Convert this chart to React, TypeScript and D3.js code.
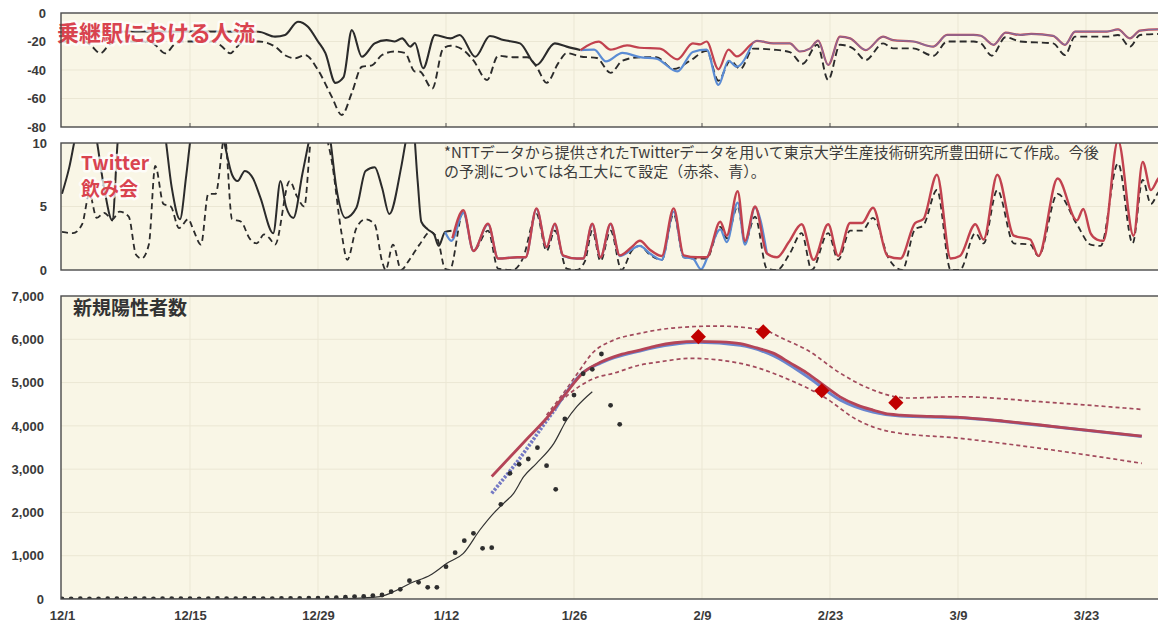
import { useEffect, useRef } from "react";
import * as d3 from "d3";

type Pt = [number, number];

// x positions are day offsets from 12/1
const tickDays = [0, 14, 28, 42, 56, 70, 84, 98, 112];
const tickLabels = ["12/1", "12/15", "12/29", "1/12", "1/26", "2/9", "2/23", "3/9", "3/23"];

const flowTicks = [0, -20, -40, -60, -80];
const twitterTicks = [0, 5, 10];
const caseTicks = [0, 1000, 2000, 3000, 4000, 5000, 6000, 7000];

// 乗継駅における人流
const flowSolid: Pt[] = [
  [0, -14], [3, -13.5], [8, -13], [15, -13], [21.5, -13.2], [23.3, -16.6], [24.4, -15.4],
  [25.8, -6.1], [26.9, -9.6], [28, -20], [28.8, -28], [29.9, -49], [30.8, -45], [31.7, -12],
  [32.8, -30.7], [34.2, -21.3], [35.5, -19], [36.4, -20], [37.2, -17.8], [38.1, -23.6],
  [38.6, -21], [39.5, -38.8], [40.8, -15.4], [42.5, -17.8], [43.5, -15.4], [45.2, -30.7],
  [46.8, -16.1], [48.3, -19], [50.1, -21.3], [51.9, -36.5], [53.9, -21.3], [55.2, -23.6],
  [56.7, -26],
];
const flowDashed: Pt[] = [
  [0, -20], [2.5, -20], [3.2, -23], [4.2, -28.3], [5.2, -22], [6, -20], [9.5, -20], [10.3, -23],
  [11.3, -28.3], [12.3, -22], [13, -20], [16.5, -20], [17.4, -23], [18.4, -28.3], [19.4, -22],
  [20.2, -20], [21.5, -20], [23.3, -23.6], [24.5, -30], [25.5, -31.8], [26.6, -29.5], [28, -40],
  [29.5, -58.7], [30.6, -71.6], [31.7, -56], [32.8, -37.7], [33.9, -36.7], [35, -29.5],
  [36.4, -27], [37.5, -28], [38.6, -41], [39.1, -41], [40.5, -53], [41.7, -24.8], [42.5, -23],
  [43.9, -26], [45, -33.3], [46.5, -47], [47.7, -30], [49.3, -31], [50.9, -31], [51.9, -37.7],
  [53, -49], [54.3, -35], [55.2, -28.2], [56.7, -30.5], [58.5, -31.6], [60, -42], [61.3, -33.5],
  [63.2, -31], [65, -31], [66.9, -39.3], [68.7, -33.5], [70.5, -26.5], [71.8, -47.5],
  [73.1, -33.5], [74.2, -39.3], [75.6, -25], [77.8, -25.7], [79.6, -27.4], [81, -35.6],
  [82.6, -22.3], [83.8, -47], [85.1, -22.3], [86.5, -24.8], [87.9, -33], [89.8, -21.3],
  [90.9, -24.8], [93.1, -24.8], [95.3, -30], [96.8, -20], [99.7, -20], [100.5, -21.3],
  [101.7, -30], [103.2, -17], [104.8, -20], [108.4, -21.3], [109.7, -29.5], [110.8, -16.6],
  [114.3, -16.6], [115.5, -15.4], [116.8, -23.6], [117.9, -15.4], [119.8, -14.7], [121, -14.5],
];
const flowRed: Pt[] = [
  [56.7, -26], [58.7, -20.1], [60, -25.7], [61.8, -22.7], [63.2, -24.4], [65.4, -25],
  [67.3, -32.5], [69, -21.3], [69.8, -22], [70.5, -20], [71.8, -39.5], [72.9, -25.7],
  [73.8, -30.5], [75.5, -21.3], [76, -19.5], [77.8, -21.3], [79.6, -21.3], [80.7, -27],
  [81.8, -25], [82.7, -19.4], [83.8, -36.5], [85.1, -16.6], [86.2, -17.8], [87.9, -26],
  [89.8, -16.6], [90.9, -19], [93.1, -20], [95.3, -23.6], [96.8, -15.4], [99.7, -15.4],
  [100.5, -16], [101.9, -22.3], [103.2, -13.8], [104.8, -15.4], [106, -14.7], [108.4, -16],
  [109.7, -22.3], [110.8, -13], [114.3, -13], [115.5, -11.5], [116.8, -17.8], [117.9, -12.4],
  [119.8, -11.5], [121, -11.5],
];
const flowBlue: Pt[] = [
  [56.7, -26], [58.2, -25.7], [59.5, -34], [61.3, -28], [63.2, -31], [65, -32], [67.3, -41],
  [69, -27.4], [70.5, -25.7], [71.8, -50.5], [72.9, -33.5], [73.8, -37.7], [75.5, -21.5],
];

// Twitter 飲み会
const tweetSolid: Pt[] = [
  [0, 6], [0.8, 8.1], [1.5, 10.6], [2.5, 13], [3.6, 11], [4.6, 6.5], [5.5, 3.9], [6.1, 10.2],
  [7, 14], [10, 14], [11.2, 11], [12, 6.5], [12.9, 4], [13.6, 7.5], [14.2, 11], [16, 14],
  [17.6, 10.5], [18.6, 7.5], [19.2, 7], [20, 7.8], [20.9, 7.2], [21.7, 5.7], [23.1, 2.9],
  [23.9, 7], [24.5, 5], [25.3, 4.1], [26.3, 7.6], [27.1, 10.5], [28, 14], [29.3, 10.5],
  [30, 6.5], [31, 4.1], [32.2, 4.9], [33.2, 7.8], [34.2, 8.1], [35, 6.5], [35.8, 4.4],
  [37.1, 8.1], [37.7, 10.5], [38.3, 12], [38.9, 7], [39.3, 3.8], [40, 3.2], [40.7, 2.8],
  [41.2, 1.9], [41.9, 3], [42.6, 3.1],
];
const tweetDashed: Pt[] = [
  [0, 3], [1.2, 2.9], [2.2, 3.6], [3, 6], [3.8, 4.1], [4.6, 4.5], [5.5, 4], [6.3, 4.6],
  [7.3, 4.2], [8.1, 1.2], [8.7, 0.9], [9.5, 2], [10.2, 8.2], [11.1, 5.2], [11.9, 5],
  [12.8, 3.3], [13.8, 4], [14.4, 3.1], [15.2, 2], [16, 6], [16.8, 6], [17.8, 10.5], [18.6, 4],
  [19.6, 3.8], [20.5, 2.5], [21.3, 2.1], [22.1, 2.8], [22.7, 2.5], [23.3, 2], [24.9, 7],
  [25.7, 5.8], [26.5, 5], [27.3, 10.5], [28.5, 11], [29.4, 9], [30.6, 2.8], [31.2, 0.8],
  [32.2, 3.3], [33.2, 4], [34.2, 3.6], [35, 0.7], [35.4, 0], [36.2, 2], [37.1, 0], [37.9, 0.7],
  [39.1, 2], [40.3, 3], [41.1, 2.4], [41.9, 0.1], [42.4, 0], [43.9, 4.6], [45, 1.5],
  [46.6, 3.1], [47.7, 0.1], [49.3, 0], [50.4, 0.9], [51.9, 4.4], [53, 1.5], [53.9, 3.1],
  [55.2, 0.1], [56.3, 0], [57.2, 0.7], [58, 3.1], [58.9, 0.7], [60, 3.1], [61.2, 0],
  [62.3, 1.5], [63.2, 1.9], [64.3, 1.2], [65.6, 0.8], [66.9, 4.4], [68, 1], [69.5, 0.9],
  [70.5, 0.9], [72, 3.4], [72.7, 2.5], [73.9, 5], [74.7, 2.2], [75.8, 4.2], [77.1, 0.1],
  [78.2, 0], [79.6, 1.3], [80.9, 2.9], [82, 0], [83.8, 2.9], [84.9, 0.8], [86.2, 3.1],
  [87.5, 3.1], [88.7, 4.1], [90.5, 0.8], [91.9, 0], [93.3, 3.2], [94.2, 3.5], [95.7, 6.3],
  [97.2, 0], [98.2, 0], [99.9, 2.9], [100.8, 2.1], [102.3, 6.3], [104.1, 2.1], [105.9, 2],
  [106.8, 1.1], [108.9, 6], [111, 3.6], [112.5, 2], [113.6, 1.9], [115.5, 8.4], [117.1, 2.1],
  [118.2, 7.1], [119.1, 5.2], [119.9, 6.1], [121, 6.8],
];
const tweetRed: Pt[] = [
  [42.7, 2.5], [43.9, 4.7], [45, 1.5], [46.6, 3.65], [47.7, 0.9], [49.8, 1], [50.7, 1],
  [51.9, 4.85], [53, 1.8], [53.9, 3.65], [54.8, 1.15], [56.3, 0.9], [57, 0.9], [58, 3.65],
  [58.9, 1], [60, 3.65], [61, 1.15], [62.3, 1.8], [63.2, 2.3], [64.3, 1.6], [65.6, 1.1],
  [66.9, 4.85], [68, 1.15], [69.5, 1], [70.5, 1], [72, 3.8], [72.7, 2.7], [73.9, 6.2],
  [74.7, 2.3], [75.8, 5], [77.1, 1.3], [78.2, 1], [79.5, 2.2], [80.9, 3.6], [82.2, 0.8],
  [83.8, 3.6], [84.9, 1.1], [86.2, 3.7], [87.5, 3.7], [88.7, 4.9], [90.3, 1.1], [91.7, 0.9],
  [93.3, 3.7], [94.2, 4], [95.7, 7.5], [97.2, 0.9], [98.2, 1.1], [99.9, 3.6], [100.8, 2.4],
  [102.3, 7.5], [104.1, 2.7], [105.9, 2.4], [106.8, 1.1], [108.9, 7.2], [111, 3.9],
  [111.7, 4.8], [112.5, 2.9], [113.2, 2.4], [113.9, 2.3], [115.5, 10.2], [117.2, 2.7],
  [118.2, 8.5], [119.1, 6.3], [119.9, 7.2], [121, 7.8],
];
const tweetBlue: Pt[] = [
  [41.9, 3], [42.6, 2.3], [43.9, 4.5], [45, 1.5], [46.6, 3.6], [47.7, 0.9], [49.8, 1],
  [50.7, 1], [51.9, 4.8], [53, 1.8], [53.9, 3.6], [54.8, 1.1], [56.3, 0.9], [57, 0.9],
  [58, 3.6], [58.9, 1], [60, 3.6], [61, 1.1], [63.2, 1.9], [64.3, 1.3], [65.6, 0.8],
  [66.9, 4.6], [68, 1], [69, 0.9], [69.9, 0.05], [70.6, 1], [72, 3.2], [72.7, 2.2],
  [73.9, 5.3], [74.7, 2], [75.8, 4.9], [77.1, 1.3],
];

// 新規陽性者数
const dailyCases = [
  5, 4, 6, 5, 3, 7, 6, 5, 8, 6, 4, 7, 9, 8, 6, 5, 10, 12, 9, 8, 11, 14, 10, 9, 13, 12, 15, 20,
  18, 25, 30, 40, 55, 60, 80, 92, 169, 224, 424, 385, 270, 270, 746, 1070, 1347, 1517, 1171,
  1185, 2187, 2903, 3111, 3234, 3495, 3079, 2534, 4158, 4712, 5204, 5306, 5660, 4474, 4035,
];
const caseTrend: Pt[] = [
  [0, 0], [29, 0], [31, 8], [33, 25], [34.8, 54], [36.5, 190], [38.1, 362], [40.3, 554],
  [42.1, 824], [43.9, 1055], [45.7, 1594], [47.2, 1979], [48.3, 2210], [49.4, 2442],
  [50.5, 2825], [51.9, 3135], [53.8, 3597], [55.2, 4135], [56.3, 4442], [58, 4789],
];
const forecastRed: Pt[] = [
  [47, 2830], [49, 3280], [51, 3730], [53, 4175], [55, 4720], [57, 5230], [59, 5480],
  [61, 5640], [63.2, 5750], [65, 5850], [67, 5920], [69.6, 5950], [72, 5940], [74.2, 5900],
  [76, 5800], [77.8, 5680], [79.6, 5460], [81.5, 5220], [83.3, 4940], [85.1, 4670], [87, 4480],
  [88.7, 4365], [90, 4290], [91.7, 4250], [95, 4220], [98.2, 4197], [103, 4110], [107, 4020],
  [112, 3900], [118.1, 3765],
];
const forecastBlue: Pt[] = [
  [47, 2440], [48, 2700], [49, 2960], [50, 3230], [51, 3520], [52, 3820], [53, 4120],
  [54, 4400], [56.7, 5180], [59, 5460], [63.2, 5730], [69.6, 5930], [74.2, 5860], [77.8, 5620],
  [81.5, 5140], [85.1, 4600], [88.7, 4320], [91.7, 4230], [98.2, 4185], [107, 4012],
  [118.1, 3758],
];
const forecastUpper: Pt[] = [
  [53, 4250], [55, 4800], [56.5, 5250], [58.1, 5700], [60, 5950], [63.2, 6137], [66.8, 6260],
  [71.6, 6306], [76.7, 6214], [79, 6000], [81.5, 5752], [85.1, 5220], [88.7, 4828],
  [92.4, 4643], [98.2, 4673], [107, 4558], [118, 4382],
];
const forecastLower: Pt[] = [
  [54.5, 4560], [56.5, 4900], [58.5, 5120], [60.3, 5214], [63.2, 5405], [65.4, 5480],
  [68.7, 5560], [74.2, 5444], [79.6, 5059], [83.3, 4673], [87, 4135], [90.6, 3865],
  [98.2, 3712], [107, 3481], [118.1, 3135],
];
const markers: Pt[] = [
  [69.6, 6060], [76.7, 6175], [83.1, 4812], [91.2, 4535],
];

const FONT = "'Liberation Sans', Arial, sans-serif";
const JP = "'Noto Sans CJK JP', 'Noto Sans', sans-serif";
const W = 1158;
const H = 628;
const LEFT = 61;
const RIGHT = 1180;
const CREAM = "#f9f6e6";
const GRID = "#ebe7d4";
const RED = "#c2424f";
const BLUE = "#5b8cd4";

const App = () => {
  const chartRef = useRef<SVGSVGElement>(null);

  useEffect(() => {
    if (!chartRef.current) return;
    const svg = d3.select(chartRef.current);
    svg.selectAll("*").remove();
    svg.attr("width", W).attr("height", H).attr("viewBox", [0, 0, W, H] as any);

    svg.append("rect").attr("width", W).attr("height", H).attr("fill", "#fff");

    const x = d3.scaleLinear().domain([0, 112]).range([62, 1086]);

    const panel = (
      id: string,
      y0: number,
      y1: number,
      domain: [number, number],
      ticks: number[],
      fmt: (d: number) => string,
      labelX: number
    ) => {
      const y = d3.scaleLinear().domain(domain).range([y1, y0]);
      svg
        .append("rect")
        .attr("x", LEFT)
        .attr("y", y0)
        .attr("width", RIGHT - LEFT)
        .attr("height", y1 - y0)
        .attr("fill", CREAM);
      svg
        .append("g")
        .selectAll("line")
        .data(ticks.filter((t) => t !== domain[0] && t !== domain[1]))
        .join("line")
        .attr("x1", LEFT)
        .attr("x2", RIGHT)
        .attr("y1", (d) => y(d))
        .attr("y2", (d) => y(d))
        .attr("stroke", GRID);
      svg
        .append("g")
        .selectAll("line")
        .data(tickDays.slice(1))
        .join("line")
        .attr("x1", (d) => x(d))
        .attr("x2", (d) => x(d))
        .attr("y1", y0)
        .attr("y2", y1)
        .attr("stroke", GRID);
      svg
        .append("clipPath")
        .attr("id", id)
        .append("rect")
        .attr("x", LEFT)
        .attr("y", y0)
        .attr("width", RIGHT - LEFT)
        .attr("height", y1 - y0);
      const plot = svg.append("g").attr("clip-path", `url(#${id})`);

      svg
        .append("g")
        .attr("transform", `translate(${labelX},0)`)
        .call(d3.axisLeft(y).tickValues(ticks).tickSize(0).tickPadding(0).tickFormat(fmt as any))
        .call((g) => g.select(".domain").remove())
        .attr("font-family", FONT)
        .attr("font-size", 13)
        .attr("font-weight", "bold")
        .call((g) => g.selectAll("text").attr("fill", "#3a3a3a"));

      const frame = () =>
        svg
          .append("rect")
          .attr("x", LEFT)
          .attr("y", y0)
          .attr("width", RIGHT - LEFT)
          .attr("height", y1 - y0)
          .attr("fill", "none")
          .attr("stroke", "#4a4a4a")
          .attr("stroke-width", 1.4);
      return { y, plot, frame };
    };

    const draw = (
      g: any,
      y: any,
      data: Pt[],
      color: string,
      width: number,
      dash: string | null = null,
      opacity = 1
    ) =>
      g
        .append("path")
        .attr("fill", "none")
        .attr("stroke", color)
        .attr("stroke-width", width)
        .attr("stroke-dasharray", dash)
        .attr("stroke-opacity", opacity)
        .attr("stroke-linejoin", "round")
        .attr("d", d3.line<Pt>().x((d) => x(d[0])).y((d) => y(d[1])).curve(d3.curveMonotoneX)(data));

    const halo = (t: any) =>
      t
        .attr("stroke", "rgba(255,255,255,0.75)")
        .attr("stroke-width", 5)
        .attr("paint-order", "stroke")
        .attr("stroke-linejoin", "round");

    // top panel: 人流
    const p1 = panel("clip-flow", 13, 127, [-80, 0], flowTicks, (d) => String(d), 46);
    draw(p1.plot, p1.y, flowDashed, "#2b2b2b", 1.9, "7 4");
    draw(p1.plot, p1.y, flowSolid, "#2b2b2b", 2.1);
    draw(p1.plot, p1.y, flowBlue, BLUE, 2.2);
    draw(p1.plot, p1.y, flowRed, RED, 2.2);
    draw(p1.plot, p1.y, flowRed.filter((d) => d[0] >= 75.5), BLUE, 1.4, null, 0.55);
    svg
      .append("g")
      .selectAll("line")
      .data(tickDays.slice(1))
      .join("line")
      .attr("x1", (d) => x(d))
      .attr("x2", (d) => x(d))
      .attr("y1", 127)
      .attr("y2", 123)
      .attr("stroke", "#555");
    svg
      .append("text")
      .attr("x", 57)
      .attr("y", 33)
      .attr("dy", "0.36em")
      .attr("font-family", JP)
      .attr("font-size", 22)
      .attr("font-weight", "bold")
      .attr("fill", "#d9434f")
      .call(halo)
      .text("乗継駅における人流");
    p1.frame();

    // middle panel: Twitter
    const p2 = panel("clip-tweet", 143, 270, [0, 10], twitterTicks, (d) => String(d), 47);
    draw(p2.plot, p2.y, tweetDashed, "#2b2b2b", 1.8, "6 4");
    draw(p2.plot, p2.y, tweetSolid, "#2b2b2b", 2);
    draw(p2.plot, p2.y, tweetBlue, BLUE, 2.2);
    draw(p2.plot, p2.y, tweetRed, RED, 2.4);
    const tw = svg
      .append("text")
      .attr("font-family", JP)
      .attr("font-size", 19)
      .attr("font-weight", "bold")
      .attr("fill", "#d9434f")
      .call(halo);
    tw.append("tspan").attr("x", 81).attr("y", 170).text("Twitter");
    tw.append("tspan").attr("x", 81).attr("y", 196).text("飲み会");
    const note = svg
      .append("text")
      .attr("font-family", JP)
      .attr("font-size", 15)
      .attr("fill", "#3c3c3c");
    note
      .append("tspan")
      .attr("x", 444)
      .attr("y", 158)
      .text("*NTTデータから提供されたTwitterデータを用いて東京大学生産技術研究所豊田研にて作成。今後");
    note.append("tspan").attr("x", 444).attr("y", 177).text("の予測については名工大にて設定（赤茶、青）。");
    p2.frame();

    // bottom panel: 新規陽性者数
    const p3 = panel("clip-cases", 296, 599, [0, 7000], caseTicks, d3.format(","), 44);
    draw(p3.plot, p3.y, forecastUpper, "#a24a5c", 1.7, "4 3");
    draw(p3.plot, p3.y, forecastLower, "#a24a5c", 1.7, "4 3");
    draw(p3.plot, p3.y, forecastBlue.filter((d) => d[0] <= 54), "#7479c4", 3.6, "2.5 1.5");
    draw(p3.plot, p3.y, forecastBlue.filter((d) => d[0] >= 54), "#6a86cf", 3);
    draw(p3.plot, p3.y, forecastRed, "#b44457", 2.8);
    draw(p3.plot, p3.y, caseTrend, "#333", 1.2);
    p3.plot
      .append("g")
      .selectAll("circle")
      .data(dailyCases)
      .join("circle")
      .attr("cx", (_d: number, i: number) => x(i))
      .attr("cy", (d: number) => p3.y(d))
      .attr("r", 2.4)
      .attr("fill", "#2e2e2e");
    p3.plot
      .append("g")
      .selectAll("path")
      .data(markers)
      .join("path")
      .attr("d", d3.symbol(d3.symbolSquare, 115)() as string)
      .attr("transform", (d: Pt) => `translate(${x(d[0])},${p3.y(d[1])}) rotate(45)`)
      .attr("fill", "#c00000");
    svg
      .append("text")
      .attr("x", 73)
      .attr("y", 308)
      .attr("dy", "0.36em")
      .attr("font-family", JP)
      .attr("font-size", 19)
      .attr("font-weight", "bold")
      .attr("fill", "#333")
      .text("新規陽性者数");
    p3.frame();

    svg
      .append("g")
      .attr("transform", "translate(0,599)")
      .call(
        d3
          .axisBottom(x)
          .tickValues(tickDays)
          .tickSize(0)
          .tickPadding(12)
          .tickFormat((_d, i) => tickLabels[i])
      )
      .call((g) => g.select(".domain").remove())
      .attr("font-family", FONT)
      .attr("font-size", 13)
      .attr("font-weight", "bold")
      .call((g) => g.selectAll("text").attr("fill", "#3a3a3a"));
  }, []);

  return <svg ref={chartRef} style={{ position: "absolute", left: 0, top: 0 }}></svg>;
};

export default App;
